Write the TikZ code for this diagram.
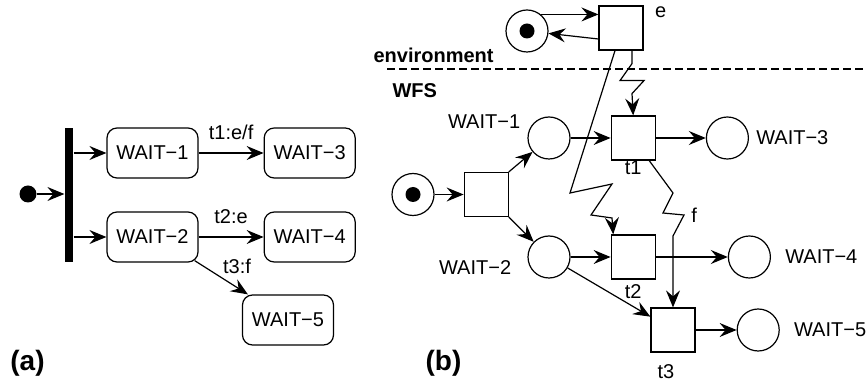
\documentclass[tikz,border=0pt]{standalone}
\usepackage{fontspec}
\setmainfont{Liberation Sans}
\usepackage{tikz}
\usetikzlibrary{arrows.meta, positioning, shapes.geometric, calc}

\begin{document}
\begin{tikzpicture}[
    x=0.5pt, y=-0.5pt,
    line width=0.6pt,
    font=\fontsize{10}{12}\selectfont,
    flow/.style={-{Stealth[length=8.5pt, width=7pt, inset=3pt]}},
    state/.style={draw, rectangle, rounded corners=5pt, minimum width=45.5pt, minimum height=25pt, inner sep=0pt},
    place/.style={draw, circle, minimum size=21pt, inner sep=0pt},
    trans/.style={draw, rectangle, minimum size=22pt, inner sep=0pt},
    token/.style={circle, fill=black, minimum size=7.5pt, inner sep=0pt},
    tag/.style={font=\fontsize{14}{16}\selectfont\bfseries}
]
    \useasboundingbox (0,0) rectangle (867,384);

    % (a) state machine
    \node[token, minimum size=8.5pt] (init) at (28,194) {};
    \node[rectangle, fill=black, minimum width=4pt, minimum height=67pt, inner sep=0pt] (fork) at (69,195) {};
    \node[state] (wa1) at (152.5,153) {WAIT−1};
    \node[state, right=32.5pt of wa1] (wa3) {WAIT−3};
    \node[state] (wa2) at (152.5,237) {WAIT−2};
    \node[state, right=32.5pt of wa2] (wa4) {WAIT−4};
    \node[state] (wa5) at (288,320) {WAIT−5};

    \draw[flow] (init) -- (init -| fork.west);
    \draw[flow] (fork.east |- wa1) -- (wa1);
    \draw[flow] (fork.east |- wa2) -- (wa2);
    \draw[flow] (wa1) -- node[above=3pt] {t1:e/f} (wa3);
    \draw[flow] (wa2) -- node[above=3pt] {t2:e} (wa4);
    \draw[flow] ([shift={(-2pt,1pt)}]wa2.south east) -- node[pos=0.45, above right=1pt and 2pt, inner sep=0pt] {t3:f} ([xshift=3pt]wa5.north west);

    \node[tag] (lbla) at (27.5,363.5) {(a)};

    % (b) petri net
    \node[place] (envp) at (527,31) {};
    \node[token] (envtok) at (envp) {};
    \node[trans] (te) at (621,28) {};
    \node[anchor=north west, inner sep=0pt] (elbl) at ([xshift=5.5pt, yshift=-0.5pt]te.north east) {e};

    \coordinate (dashL) at (387,69);
    \coordinate (dashR) at (867,69);
    \draw[dash pattern=on 4pt off 2pt] (dashL) -- (dashR);
    \node[anchor=base west, inner sep=0pt, font=\bfseries] (envlbl) at (373,63) {environment};
    \node[anchor=base west, inner sep=0pt, font=\bfseries] (wfslbl) at (392,98) {WFS};

    \node[place] (ip) at (413,194.5) {};
    \node[token] (iptok) at (ip) {};
    \node[trans, right=14.5pt of ip] (ti) {};

    \node[place, label={[yshift=8pt]left:WAIT−1}] (w1) at (549,138) {};
    \node[trans, right=20pt of w1, label={[inner sep=0pt]below:t1}] (t1) {};
    \node[place, right=25pt of t1, label=right:WAIT−3] (w3) {};

    \node[place, label={[label distance=4.5pt, yshift=-5.5pt]left:WAIT−2}] (w2) at (549,257) {};
    \node[trans, right=20pt of w2, label={[inner sep=0pt, label distance=2pt]below:t2}] (t2) {};
    \node[place, right=36pt of t2, label={[label distance=3.5pt]right:WAIT−4}] (w4) {};

    \node[trans, label={[inner sep=0pt, label distance=5.5pt, xshift=-3.5pt]below:t3}] (t3) at (673,330) {};
    \node[place, right=20.5pt of t3, label={[label distance=3.5pt]right:WAIT−5}] (w5) {};

    \draw[flow] (envp.50) -- (envp.50 -| te.west);
    \draw[flow] ([yshift=-5.5pt]te.west) -- (envp);
    \draw[flow] (ip) -- (ti);
    \draw[flow] (ti.north east) -- (w1);
    \draw[flow] (ti.south east) -- (w2);
    \draw[flow] (w1) -- (t1);
    \draw[flow] (t1) -- (w3);
    \draw[flow] (w2) -- (t2);
    \draw[flow] (t2) -- (w4);
    \draw[flow] (w2) -- (t3);
    \draw[flow] (t3) -- (w5);

    % signals
    \draw[flow] ([xshift=5.5pt]te.south) -- ++(0,-6.5pt) -- ++(-6pt,-8.5pt) -- ++(12pt,0) -- ++(-6pt,-6.5pt) -- (t1.north);
    \draw[flow] ([xshift=-3pt]te.south) -- (570,193) -- (612,184) -- (591,215) -- (612,218) -- ([xshift=-10pt]t2.north);
    \draw[flow] ([xshift=8pt]t1.south) -- (673,193) -- (663,213) -- (684,215) node[right] (flbl) {f} -- (673,236) -- (t3.north);

    \node[tag] (lblb) at (443.5,363.5) {(b)};
\end{tikzpicture}
\end{document}
